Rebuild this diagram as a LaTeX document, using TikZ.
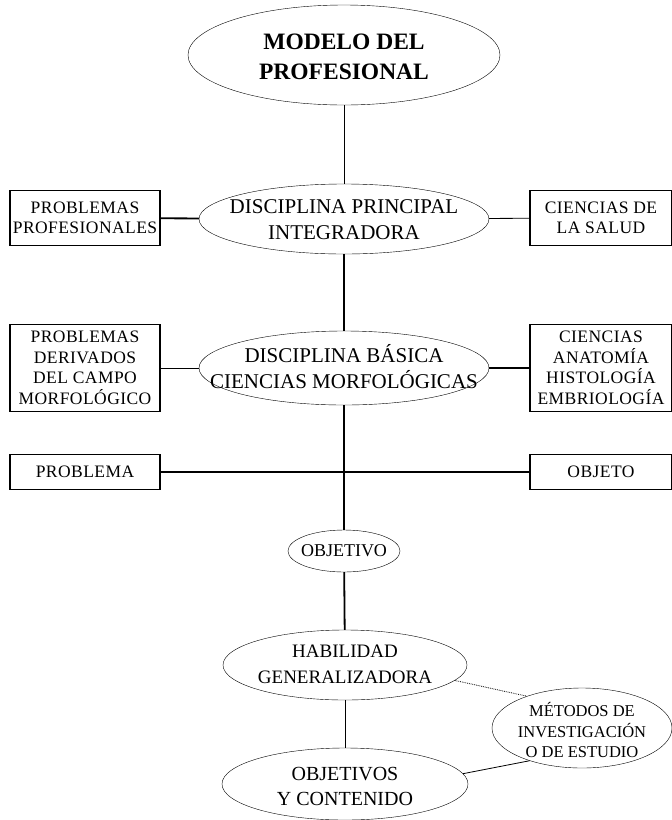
\documentclass[tikz,border=0pt]{standalone}
\usepackage{fontspec}
\setmainfont{Liberation Serif}
\usetikzlibrary{shapes.geometric}
% texto que no cambia el tamano del ovalo
\newcommand{\dentro}[2][-0.34em]{\makebox[0pt]{\smash{\raisebox{#1}{%
  \begin{tabular}{@{}c@{}}#2\end{tabular}}}}}
\begin{document}
\begin{tikzpicture}[x=1pt,y=-1pt,
  oval/.style={ellipse,draw,thin,inner sep=0pt,
               font=\fontsize{19}{26}\selectfont},
  caja/.style={rectangle,draw,line width=1.6pt,inner sep=0pt,align=center,
               font=\addfontfeatures{LetterSpace=2.5}\fontsize{17.5}{20.5}\selectfont},
  grueso/.style={line width=1.8pt},
  fino/.style={line width=0.8pt}]

\useasboundingbox (0,0) rectangle (672,820);

% ovalos del eje central
\node[oval,minimum width=312pt,minimum height=100pt,
      font=\bfseries\fontsize{23.5}{30}\selectfont]
      (modelo) at (344,55) {\dentro[-0.4em]{MODELO DEL\\PROFESIONAL}};

\node[oval,minimum width=290pt,minimum height=70pt,
      font=\fontsize{21}{26}\selectfont]
      (principal) at (344,219) {\dentro{DISCIPLINA PRINCIPAL\\INTEGRADORA}};

\node[oval,minimum width=290pt,minimum height=74pt,
      font=\fontsize{21}{26}\selectfont]
      (basica) at (344,368) {\dentro{DISCIPLINA BÁSICA\\CIENCIAS MORFOLÓGICAS}};

\node[oval,minimum width=112pt,minimum height=42pt,
      font=\fontsize{18}{22}\selectfont]
      (objetivo) at (344,551) {\dentro[-0.3em]{OBJETIVO}};

\node[oval,minimum width=244pt,minimum height=70pt]
      (habilidad) at (345,665) {\dentro[-0.25em]{HABILIDAD\\GENERALIZADORA}};

\node[oval,minimum width=246pt,minimum height=72pt,
      font=\fontsize{20}{25}\selectfont]
      (objetivos) at (345,784) {\dentro[-0.45em]{OBJETIVOS\\Y CONTENIDO}};

\node[oval,minimum width=180pt,minimum height=80pt,
      font=\fontsize{16.5}{20.5}\selectfont]
      (metodos) at (582,728) {\dentro[-0.58em]{MÉTODOS DE\\INVESTIGACIÓN\\O DE ESTUDIO}};

% cajas laterales
\node[caja,minimum width=150pt,minimum height=55pt]
      (profesionales) at (85,218) {PROBLEMAS\\PROFESIONALES};
\node[caja,minimum width=142pt,minimum height=55pt]
      (salud) at (601,218) {CIENCIAS DE\\LA SALUD};

\node[caja,minimum width=150pt,minimum height=87pt]
      (derivados) at (85,368) {PROBLEMAS\\DERIVADOS\\DEL CAMPO\\MORFOLÓGICO};
\node[caja,minimum width=142pt,minimum height=87pt]
      (ciencias) at (601,368) {CIENCIAS\\ANATOMÍA\\HISTOLOGÍA\\EMBRIOLOGÍA};

\node[caja,minimum width=150pt,minimum height=35pt]
      (problema) at (85,472) {PROBLEMA};
\node[caja,minimum width=142pt,minimum height=35pt]
      (objeto) at (601,472) {OBJETO};

% enlaces
\draw[fino] (modelo) -- (principal);
\draw[grueso] (principal) -- (basica);
\draw[grueso] (basica) -- (objetivo);
\draw[grueso] (objetivo) -- (habilidad);
\draw[fino] (habilidad) -- (objetivos);

\draw[grueso] (profesionales) -- (principal);
\draw[fino] (principal) -- (salud);
\draw[fino] (derivados) -- (basica);
\draw[grueso] (basica) -- (ciencias);
\draw[grueso] (problema) -- (objeto);

\draw[fino,densely dotted] (habilidad.-8) -- (metodos.150);
\draw[fino] (objetivos.5) -- (metodos.212);

\end{tikzpicture}
\end{document}
